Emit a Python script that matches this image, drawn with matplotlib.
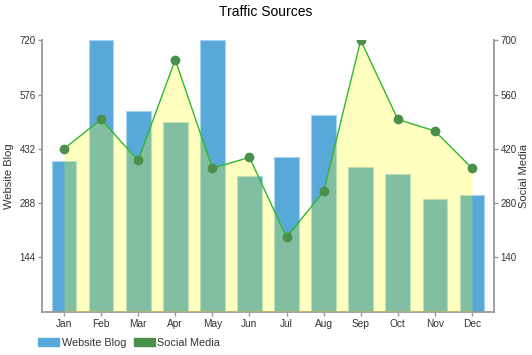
import numpy as np
import matplotlib
matplotlib.use("Agg")
import matplotlib.pyplot as plt
from matplotlib.patches import Patch

plt.rcParams["font.family"] = ["Liberation Sans", "DejaVu Sans"]

months = ["Jan", "Feb", "Mar", "Apr", "May", "Jun", "Jul", "Aug", "Sep", "Oct", "Nov", "Dec"]
website_blog = [400, 720, 532, 502, 720, 360, 410, 522, 385, 365, 298, 310]
social_media = [420, 496, 390, 650, 370, 398, 192, 310, 700, 496, 466, 370]
left_ticks = [144, 288, 432, 576, 720]
right_ticks = [140, 280, 420, 560, 700]

BLUE = "#58a9d9"
LINE = "#2fb82f"
MARK = "#4c8f4a"
AXIS = "#999999"
TXT = "#333333"


def style_axis(ax):
    for s in ax.spines.values():
        s.set_color(AXIS)
        s.set_linewidth(1.3)
    ax.tick_params(colors=AXIS, labelcolor=TXT, labelsize=7, length=3, width=1, pad=1.5)


def main():
    fig = plt.figure(figsize=(5.32, 3.55), dpi=100)
    ax = fig.add_axes([0.0784, 0.122, 0.8507, 0.7645])
    x = np.arange(len(months))

    ax.bar(x, website_blog, width=0.67, color=BLUE, edgecolor="#a8d3ee", linewidth=0.8, zorder=1)
    ax.set_xlim(-0.6, len(months) - 0.4)
    ax.set_ylim(0, 720)
    ax.set_yticks(left_ticks)
    ax.set_xticks(x)
    ax.set_xticklabels(months)
    style_axis(ax)
    ax.tick_params(axis="x", labelsize=7.3, pad=2.5)
    ax.set_ylabel("Website Blog", fontsize=8, color=TXT)
    ax.yaxis.set_label_coords(-0.062, 0.5)
    ax.spines["top"].set_visible(False)
    ax.spines["right"].set_visible(False)

    ax2 = ax.twinx()
    ax2.set_ylim(0, 700)
    ax2.fill_between(x, social_media, 0, color="#ffff00", alpha=0.25, linewidth=0)
    ax2.plot(x, social_media, color=LINE, linewidth=1.0, zorder=3)
    ax2.plot(x, social_media, "o", color=MARK, markersize=6, zorder=4)
    ax2.set_yticks(right_ticks)
    style_axis(ax2)
    ax2.set_ylabel("Social Media", fontsize=8, color=TXT)
    ax2.yaxis.set_label_coords(1.0556, 0.5)
    ax2.spines["top"].set_visible(False)
    ax2.spines["left"].set_visible(False)
    ax2.spines["bottom"].set_visible(False)

    fig.text(0.5, 0.966, "Traffic Sources", ha="center", va="center", fontsize=10, color="#000000")

    handles = [Patch(color=BLUE, label="Website Blog"), Patch(color=MARK, label="Social Media")]
    fig.legend(handles=handles, loc="lower left", bbox_to_anchor=(0.071, 0.02), ncol=2,
               frameon=False, fontsize=7.8, handlelength=2.0, handleheight=0.75,
               handletextpad=0.2, columnspacing=0.7, borderpad=0, borderaxespad=0,
               labelcolor=TXT)

    fig.savefig("out.png", dpi=100)
    plt.close(fig)


if __name__ == "__main__":
    main()
